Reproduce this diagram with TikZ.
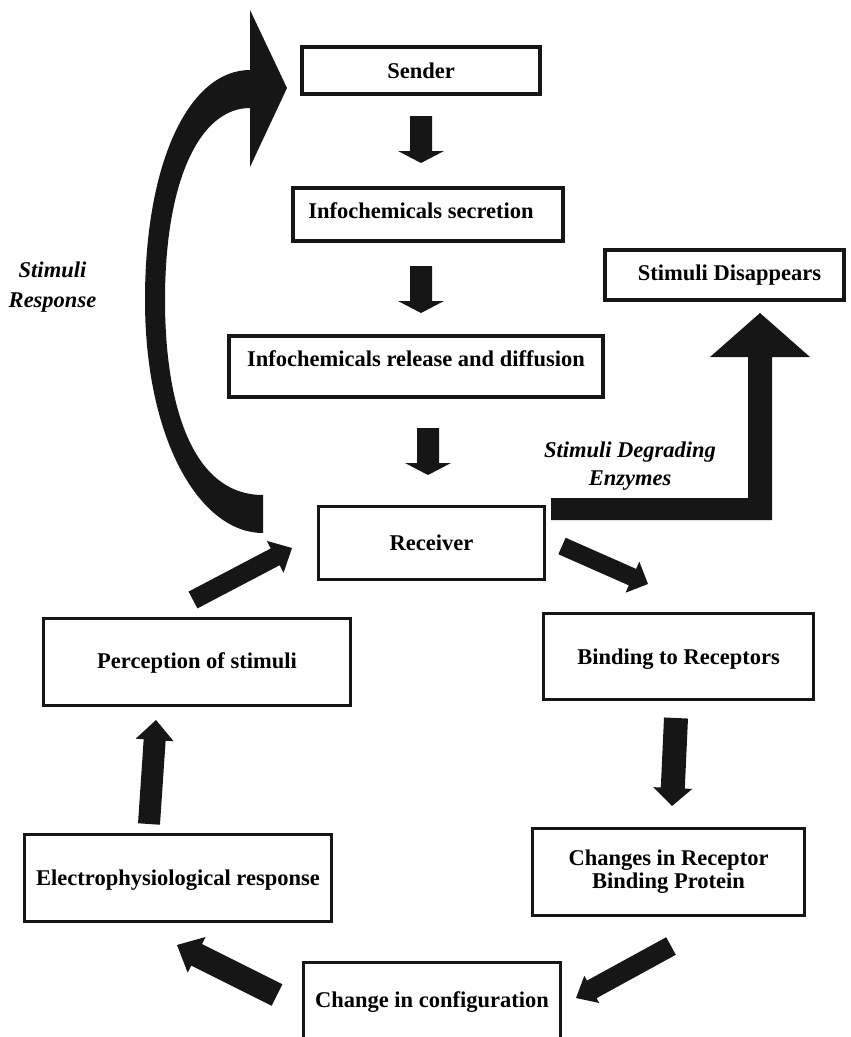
\documentclass[tikz,border=0pt]{standalone}
\usepackage{fontspec}
\setmainfont{Liberation Serif}
\usetikzlibrary{calc}
\definecolor{ink}{HTML}{161616}
\newcommand\blockarr[6]{%
  \coordinate (#1s) at #2;
  \coordinate (#1e) at #3;
  \coordinate (#1c) at ($(#1e)!#6pt!(#1s)$);
  \fill[ink] ($(#1s)!#4pt!90:(#1e)$) -- ($(#1c)!#4pt!90:(#1e)$) -- ($(#1c)!#5pt!90:(#1e)$) -- (#1e)
    -- ($(#1c)!#5pt!-90:(#1e)$) -- ($(#1c)!#4pt!-90:(#1e)$) -- ($(#1s)!#4pt!-90:(#1e)$) -- cycle;}
\begin{document}
\begin{tikzpicture}[x=1pt,y=-1pt,
  txt/.style={font=\bfseries\fontsize{22.5}{27}\selectfont, text=black},
  topbox/.style={txt, draw=ink, line width=4pt, inner sep=0pt, text height=15pt, text depth=0pt},
  lowbox/.style={txt, draw=ink, line width=3pt, inner sep=0pt, text height=15pt, text depth=0pt},
  itlbl/.style={font=\bfseries\itshape\fontsize{22.5}{#1}\selectfont, align=center, inner sep=0pt}]
\clip (0,0) rectangle (851,1037);
\fill[white] (0,0) rectangle (851,1037);

% boxes
\node[topbox, minimum width=238pt, minimum height=47pt] (sender) at (421,70.5) {Sender};
\node[topbox, minimum width=270pt, minimum height=53pt, text depth=8pt] (secr) at (428,214.5) {Infochemicals secretion\hspace*{14pt}};
\node[topbox, minimum width=374pt, minimum height=61pt, text depth=15pt] (rel) at (416,366.5) {Infochemicals release and diffusion};
\node[topbox, minimum width=239pt, minimum height=50pt, text depth=4pt] (dis) at (724.5,275) {\hspace*{10pt}Stimuli Disappears};
\node[lowbox, minimum width=226pt, minimum height=73pt] (recv) at (431.5,543) {Receiver};
\node[lowbox, minimum width=307pt, minimum height=87pt, text depth=2pt] (perc) at (197,662) {Perception of stimuli};
\node[lowbox, minimum width=270pt, minimum height=86pt] (bind) at (678.5,656.5) {Binding to Receptors};
\node[lowbox, minimum width=307pt, minimum height=87pt] (elec) at (178,878) {Electrophysiological response};
\node[txt, draw=ink, line width=3pt, inner sep=0pt, align=center, font=\bfseries\fontsize{22.5}{23}\selectfont,
      minimum width=272pt, minimum height=87pt] (chg) at (668.5,872) {Changes in Receptor\\Binding Protein};
\node[lowbox, minimum width=257pt, minimum height=81pt, text depth=6pt] (conf) at (432,1003) {Change in configuration};

% labels
\node[itlbl=30] (resp) at (52.5,287) {Stimuli\\Response};
\node[itlbl=28] (enz) at (630,466) {Stimuli Degrading\\Enzymes};

% straight block arrows
\blockarr{a1}{(421,116)}{(421,163)}{11}{23}{12}
\blockarr{a2}{(421,266)}{(421,313)}{11}{23}{12}
\blockarr{a3}{(428,428)}{(428,475)}{11}{23}{12}
\blockarr{a4}{(562,546)}{(648,584)}{9}{17}{17}
\blockarr{a5}{(676,718)}{(672,806)}{12}{19.5}{18}
\blockarr{a6}{(671,946)}{(576,998)}{10}{15.5}{18}
\blockarr{a7}{(277,995)}{(177,945)}{12}{20}{22}
\blockarr{a8}{(149,824)}{(156,720)}{11}{19}{20}
\blockarr{a9}{(193,600)}{(292,548)}{9.5}{18}{19}

% L-shaped arrow to Stimuli Disappears
\fill[ink] (551,498) -- (748,498) -- (748,357) -- (710,357) -- (760,313) -- (810,357)
  -- (772,357) -- (772,520) -- (551,520) -- cycle;

% curved Stimuli Response arrow
\fill[ink] (263,533) .. controls (200,533) and (145,440) .. (145,300)
  .. controls (145,160) and (190,70) .. (250,70)
  -- (250,10) -- (287,88) -- (250,167) -- (250,108)
  .. controls (200,108) and (165,180) .. (165,300)
  .. controls (165,400) and (190,495) .. (263,495) -- cycle;
\end{tikzpicture}
\end{document}
